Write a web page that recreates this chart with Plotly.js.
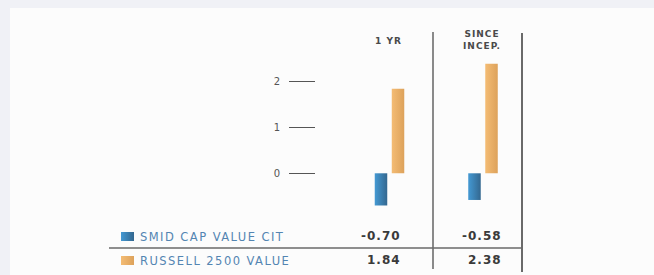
<!DOCTYPE html>
<html>
<head>
<meta charset="utf-8">
<script src="https://cdn.plot.ly/plotly-3.0.1.min.js"></script>
<style>
html,body{margin:0;padding:0;background:#f0f1f6;}
#chart{width:654px;height:275px;}
text.annotation-text{letter-spacing:1px;}
text.annotation-text[style*="11.5px"]{letter-spacing:1.45px;}
</style>
</head>
<body>
<div id="chart"></div>
<script>
// ---- data ----
const categories = ['1 YR', 'SINCE INCEP.'];
const headerLines = [['1 YR'], ['SINCE', 'INCEP.']];
const seriesNames = ['SMID CAP VALUE CIT', 'RUSSELL 2500 VALUE'];
const smidValues = [-0.70, -0.58];
const russellValues = [1.84, 2.38];
const yTickVals = [0, 1, 2];
const yTickText = ['0', '1', '2'];

// ---- styling / layout helpers ----
const W = 654, H = 275;
const px = x => x / W;
const py = y => 1 - y / H;
const colors = ['#3c86ba', '#ebb068'];
const gradStops = [['#4499d3', '#33678f'], ['#f4bc74', '#dda25b']];
const FONT = 'DejaVu Sans, sans-serif';

const traces = [
  {type: 'bar', x: [0, 1], y: smidValues, name: seriesNames[0],
   marker: {color: colors[0]}, hoverinfo: 'skip'},
  {type: 'bar', x: [0, 1], y: russellValues, name: seriesNames[1],
   marker: {color: colors[1]}, hoverinfo: 'skip'}
];

const shapes = [
  {type: 'rect', xref: 'paper', yref: 'paper', x0: px(10), x1: 1, y0: 0, y1: py(8),
   fillcolor: '#fcfcfc', line: {width: 0}, layer: 'below'},
  {type: 'line', xref: 'paper', yref: 'paper', x0: px(433), x1: px(433), y0: py(32), y1: py(269),
   line: {color: '#8a8a8a', width: 2}},
  {type: 'line', xref: 'paper', yref: 'paper', x0: px(522), x1: px(522), y0: py(33), y1: py(272),
   line: {color: '#6a6a6a', width: 2}},
  {type: 'line', xref: 'paper', yref: 'paper', x0: px(109), x1: px(522), y0: py(248), y1: py(248),
   line: {color: '#6a6a6a', width: 1.5}}
];

const rowY = [236.5, 260.5];
const valueRight = [402, 503];
const annotations = [];
const seriesValues = [smidValues, russellValues];

seriesNames.forEach((name, r) => {
  shapes.push({type: 'rect', xref: 'paper', yref: 'paper',
    x0: px(121), x1: px(134), y0: py(rowY[r] + 4.5), y1: py(rowY[r] - 4.5),
    fillcolor: colors[r], line: {width: 0}, name: 'legend' + r});
  annotations.push({xref: 'paper', yref: 'paper', x: px(138), y: py(rowY[r]),
    xanchor: 'left', yanchor: 'middle', text: name, showarrow: false,
    font: {family: FONT, size: 11.5, color: '#5385b2'}});
  seriesValues[r].forEach((v, c) => {
    annotations.push({xref: 'paper', yref: 'paper', x: px(valueRight[c] + 1), y: py(rowY[r] - 0.5),
      xanchor: 'right', yanchor: 'middle', text: v.toFixed(2), showarrow: false,
      font: {family: FONT, size: 12, color: '#3a3a3a', weight: 'bold'}});
  });
});

headerLines.forEach((lines, c) => {
  annotations.push({xref: 'x', yref: 'paper', x: c - 0.01, y: py(lines.length === 1 ? 41 : 40),
    xanchor: 'center', yanchor: 'middle', text: lines.join('<br>'), showarrow: false,
    font: {family: FONT, size: 9, color: '#4a4a4a', weight: 'bold'}});
});

const layout = {
  width: W, height: H,
  margin: {l: 0, r: 0, t: 0, b: 0, pad: 0},
  paper_bgcolor: '#f0f1f6',
  plot_bgcolor: 'rgba(0,0,0,0)',
  showlegend: false,
  barmode: 'group',
  bargap: 0.636,
  bargroupgap: 0.265,
  xaxis: {range: [-4.166, 2.829], domain: [0, 1], visible: false, fixedrange: true},
  yaxis: {range: [-2.211, 3.767], domain: [0, 1], anchor: 'free', position: px(315),
    side: 'left', showgrid: false, zeroline: false, showline: false,
    ticks: 'outside', ticklen: 26, tickwidth: 1.3, tickcolor: '#555',
    tickvals: yTickVals, ticktext: yTickText, ticklabelstandoff: 7,
    tickfont: {family: FONT, size: 10, color: '#555'}, fixedrange: true},
  shapes: shapes,
  annotations: annotations
};

function addGradients(gd) {
  const svg = gd.querySelector('svg.main-svg');
  const ns = 'http://www.w3.org/2000/svg';
  let defs = svg.querySelector('defs');
  if (!defs) { defs = document.createElementNS(ns, 'defs'); svg.insertBefore(defs, svg.firstChild); }
  gradStops.forEach((st, i) => {
    const g = document.createElementNS(ns, 'linearGradient');
    g.setAttribute('id', 'barGrad' + i);
    g.setAttribute('x1', '0'); g.setAttribute('x2', '1'); g.setAttribute('y1', '0'); g.setAttribute('y2', '0');
    st.forEach((c, k) => {
      const s = document.createElementNS(ns, 'stop');
      s.setAttribute('offset', k === 0 ? '0' : '1');
      s.setAttribute('stop-color', c);
      g.appendChild(s);
    });
    defs.appendChild(g);
  });
  gd.querySelectorAll('.barlayer .trace').forEach((tr, i) => {
    tr.querySelectorAll('path').forEach(p => { p.style.fill = 'url(#barGrad' + i + ')'; });
  });
  gd.querySelectorAll('.shapelayer path').forEach(p => {
    const f = (p.style.fill || '').toLowerCase();
    colors.forEach((c, i) => {
      const rgb = 'rgb(' + parseInt(c.slice(1, 3), 16) + ', ' + parseInt(c.slice(3, 5), 16) + ', ' + parseInt(c.slice(5, 7), 16) + ')';
      if (f === rgb) p.style.fill = 'url(#barGrad' + i + ')';
    });
  });
}

Plotly.newPlot('chart', traces, layout, {staticPlot: true, displayModeBar: false}).then(addGradients);
</script>
</body>
</html>
